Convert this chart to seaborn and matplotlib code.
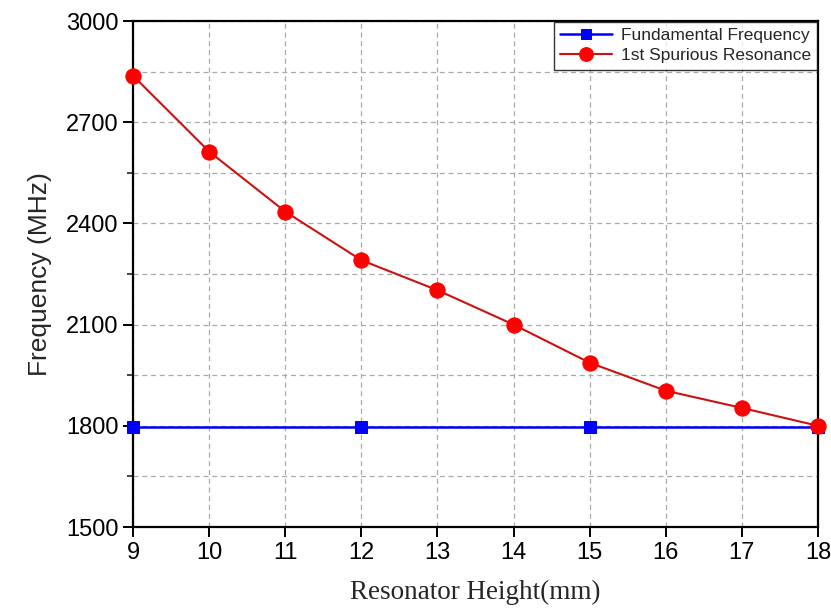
import matplotlib
matplotlib.use("Agg")
import matplotlib.pyplot as plt
import seaborn as sns
import pandas as pd
from matplotlib.ticker import MultipleLocator

heights_fund = [9, 12, 15, 18]
fund_freq = [1797, 1797, 1797, 1797]
heights_spur = [9, 10, 11, 12, 13, 14, 15, 16, 17, 18]
spur_freq = [2838, 2613, 2435, 2291, 2202, 2100, 1987, 1904, 1853, 1800]

sns.set_theme(style="ticks")
plt.rcParams['font.family'] = ['Liberation Sans', 'DejaVu Sans']

fig = plt.figure(figsize=(8.31, 6.09), dpi=100)
ax = fig.add_axes([133/831, 1-527/609, (818-133)/831, (527-21)/609])

df_f = pd.DataFrame({"h": heights_fund, "f": fund_freq})
df_s = pd.DataFrame({"h": heights_spur, "f": spur_freq})

sns.lineplot(data=df_f, x="h", y="f", ax=ax, color="#0000ff", lw=1.8,
             marker="s", markersize=8, markeredgecolor="#0000ff",
             label="Fundamental Frequency", zorder=3, clip_on=False)
sns.lineplot(data=df_s, x="h", y="f", ax=ax, color="#cc1111", lw=1.5,
             marker="o", markersize=11, markerfacecolor="#ff0000",
             markeredgecolor="#ff0000", label="1st Spurious Resonance",
             zorder=4, clip_on=False)

ax.set_xlim(9, 18)
ax.set_ylim(1500, 3000)
ax.xaxis.set_major_locator(MultipleLocator(1))
ax.yaxis.set_major_locator(MultipleLocator(300))
ax.yaxis.set_minor_locator(MultipleLocator(150))
ax.grid(True, which="both", linestyle=(0, (4, 3)), color="#aaaaaa", lw=0.9)
ax.set_axisbelow(True)
for s in ax.spines.values():
    s.set_linewidth(1.6)
    s.set_color("black")
ax.tick_params(axis="both", which="major", direction="out", length=7, width=1.4,
               labelsize=17, colors="black")
ax.tick_params(axis="y", which="minor", direction="out", length=4, width=1.2)

ax.set_ylabel("Frequency (MHz)", fontsize=19, labelpad=10)
ax.set_xlabel("Resonator Height(mm)", fontsize=19.5, family=["Liberation Serif"], labelpad=12)

leg = ax.legend(loc="upper right", fontsize=12.5, frameon=True, fancybox=False,
                borderaxespad=0.05, handlelength=3.0, borderpad=0.35, labelspacing=0.3,
                markerscale=0.9, handletextpad=0.5)
leg.get_frame().set_edgecolor("black")
leg.get_frame().set_linewidth(1.0)

fig.savefig("out.png", dpi=100)
